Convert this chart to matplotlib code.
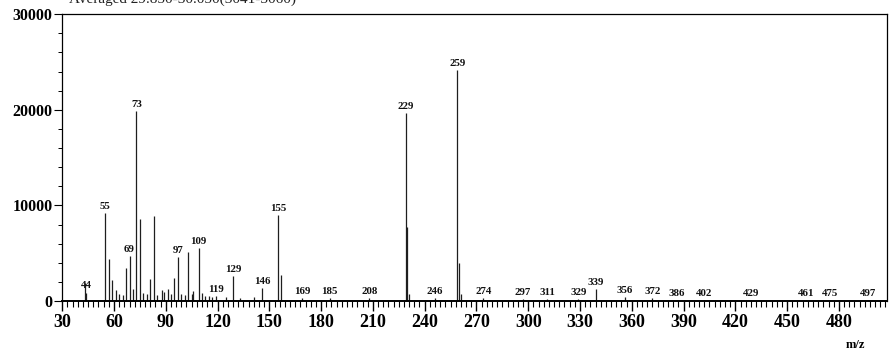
import matplotlib.pyplot as plt
from matplotlib.ticker import MultipleLocator

# peak list (m/z, abundance)
mz = [43, 44, 55, 57, 59, 61, 63, 65, 67, 69, 71, 73, 75, 77, 79, 81, 83,
      85, 88, 89, 91, 93, 95, 97, 99, 101, 103, 105, 106, 109, 111, 113,
      115, 117, 119, 125, 129, 133, 141, 146, 155, 157, 169, 185, 208,
      229, 230, 231, 246, 259, 260, 261, 274, 297, 311, 329, 339, 356,
      372, 386, 402, 429, 461, 475, 497]
abundance = [1900, 900, 9200, 4400, 2200, 1200, 800, 600, 3500, 4700, 1300,
             19900, 8600, 900, 700, 2300, 8900, 600, 1200, 1000, 1300, 700,
             2400, 4650, 800, 600, 5100, 700, 1100, 5550, 900, 500, 500, 400,
             500, 400, 2600, 350, 400, 1350, 9000, 2700, 300, 300, 350,
             19700, 7800, 700, 350, 24200, 4000, 800, 300, 200, 250, 250,
             1250, 400, 300, 150, 150, 150, 100, 150, 100]
labelled = [44, 55, 69, 73, 97, 109, 119, 129, 146, 155, 169, 185, 208, 229,
            246, 259, 274, 297, 311, 329, 339, 356, 372, 386, 402, 429, 461,
            475, 497]
header = "Averaged 29.850-30.050(3041-3060)"

plt.rcParams['font.family'] = ['Liberation Serif', 'DejaVu Serif']

fig = plt.figure(figsize=(8.89, 3.62), dpi=100)
ax = fig.add_axes([0.07, 0.168, 0.928, 0.793])

ax.vlines(mz, 0, abundance, color='#1e1e1e', lw=0.9)

for m in labelled:
    h = abundance[mz.index(m)]
    ax.annotate(str(m), (m, h), xytext=(0, 1.5), textcoords='offset points',
                ha='center', va='bottom', fontsize=7.8, fontweight='bold',
                color='#111111')

ax.set_xlim(30, 508)
ax.set_ylim(0, 30000)
ax.xaxis.set_major_locator(MultipleLocator(30))
ax.xaxis.set_minor_locator(MultipleLocator(3))
ax.yaxis.set_major_locator(MultipleLocator(10000))
ax.yaxis.set_minor_locator(MultipleLocator(2000))
ax.tick_params(axis='x', which='major', length=7, width=1, labelsize=13,
               pad=2)
ax.tick_params(axis='x', which='minor', length=4, width=0.8)
ax.tick_params(axis='y', which='major', length=6, width=0.8, labelsize=11.5,
               pad=1)
ax.tick_params(axis='y', which='minor', length=3, width=0.7)
for lab in ax.get_xticklabels() + ax.get_yticklabels():
    lab.set_fontweight('bold')
for side in ['top', 'right', 'left']:
    ax.spines[side].set_linewidth(0.9)
ax.spines['bottom'].set_linewidth(1.4)

fig.text(0.962, 0.04, 'm/z', fontsize=9, fontweight='bold', ha='center')
fig.text(0.078, 1.003, header, fontsize=11, va='center', color='#222222')

fig.savefig('out.png', dpi=100)
